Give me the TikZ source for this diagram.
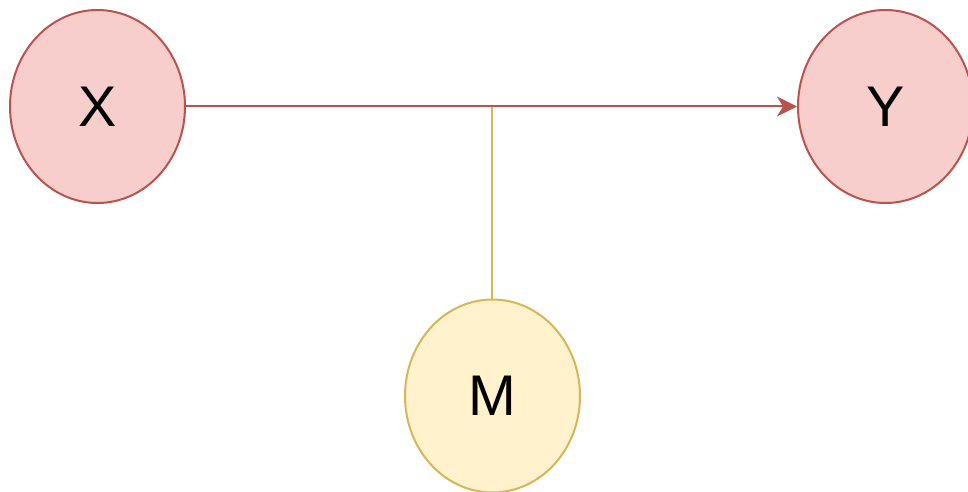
\documentclass[tikz,border=0pt]{standalone}
\usepackage{fontspec}
\setmainfont{Liberation Sans}
\usetikzlibrary{shapes.geometric,arrows.meta}

\definecolor{redfill}{HTML}{F8CECC}
\definecolor{redline}{HTML}{B85450}
\definecolor{yellowfill}{HTML}{FFF2CC}
\definecolor{yellowline}{HTML}{D6B656}

\tikzset{every picture/.style={line width=1.5pt}}
\tikzset{
  varnode/.style={ellipse, draw, inner sep=0pt, minimum width=131.25pt, minimum height=144.75pt, font=\fontsize{43}{50}\selectfont},
  rednode/.style={varnode, draw=redline, fill=redfill},
  yellownode/.style={varnode, draw=yellowline, fill=yellowfill},
}

\begin{document}
\begin{tikzpicture}[x=0.75pt,y=0.75pt,yscale=-1]
  % page frame
  \useasboundingbox (0,0) rectangle (968,492);
  \clip (0,0) rectangle (968,492);
  %Shape: Ellipse X, Y and M
  \node[rednode] (x) at (97.5,106.5) {X};
  \node[rednode] (y) at (885.5,106.5) {Y};
  \node[yellownode] (m) at (492.5,396) {M};
  % moderator line meets the main path
  \coordinate (j) at (491.5,106.5);
  \draw[yellowline] (m.north -| j) -- (j);
  %Straight Lines X -> Y
  \draw[redline, -{Stealth[length=15pt, width=15pt, inset=4.5pt]}] (x) -- (y);
\end{tikzpicture}
\end{document}
